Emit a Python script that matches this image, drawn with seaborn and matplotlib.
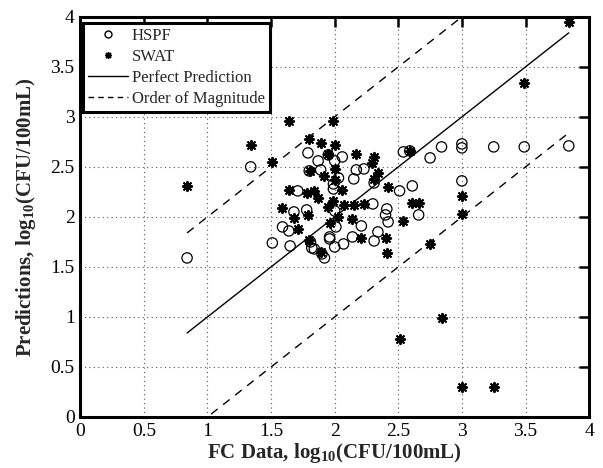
import matplotlib
matplotlib.use('Agg')
import matplotlib.pyplot as plt
from matplotlib.lines import Line2D
import numpy as np
import seaborn as sns

# FC data (x) vs model predictions (y), log10 CFU/100mL
hspf_x = [0.84, 1.34, 1.51, 1.59, 1.64, 1.65, 1.68, 1.71, 1.78, 1.79, 1.80, 1.81, 1.82, 1.84,
          1.87, 1.89, 1.90, 1.92, 1.95, 1.96, 1.96, 1.99, 1.99, 2.00, 2.00, 2.00, 2.01, 2.03,
          2.06, 2.07, 2.14, 2.15, 2.17, 2.21, 2.23, 2.30, 2.31, 2.31, 2.34, 2.40, 2.41, 2.42,
          2.51, 2.54, 2.59, 2.61, 2.66, 2.75, 2.84, 3.00, 3.00, 3.00, 3.25, 3.49, 3.84]
hspf_y = [1.59, 2.50, 1.74, 1.90, 1.86, 1.71, 2.05, 2.26, 2.07, 2.64, 2.46, 1.75, 1.69, 1.68,
          2.56, 2.47, 1.63, 1.59, 2.62, 1.80, 1.78, 2.33, 2.28, 2.56, 2.06, 1.70, 1.90, 2.39,
          2.60, 1.73, 1.80, 2.38, 2.47, 1.91, 2.48, 2.13, 2.34, 1.76, 1.85, 2.02, 2.08, 1.95,
          2.26, 2.65, 2.66, 2.31, 2.02, 2.59, 2.70, 2.73, 2.69, 2.36, 2.70, 2.70, 2.71]

swat_x = [0.84, 1.34, 1.51, 1.59, 1.64, 1.64, 1.68, 1.71, 1.78, 1.79, 1.80, 1.80, 1.81, 1.84,
          1.87, 1.89, 1.89, 1.92, 1.95, 1.95, 1.96, 1.99, 1.99, 2.00, 2.00, 2.00, 2.03, 2.06,
          2.07, 2.14, 2.15, 2.17, 2.21, 2.23, 2.29, 2.31, 2.31, 2.34, 2.40, 2.41, 2.42, 2.51,
          2.54, 2.59, 2.61, 2.66, 2.75, 2.84, 3.00, 3.00, 3.00, 3.25, 3.49, 3.84]
swat_y = [2.31, 2.72, 2.55, 2.09, 2.96, 2.27, 1.99, 1.88, 2.24, 2.02, 2.78, 1.77, 2.46, 2.26,
          2.19, 2.74, 1.65, 2.41, 2.63, 2.10, 1.94, 2.96, 2.16, 2.72, 2.48, 2.37, 2.00, 2.27,
          2.12, 1.98, 2.12, 2.63, 1.79, 2.13, 2.54, 2.60, 2.38, 2.44, 1.79, 1.64, 2.30, 0.78,
          1.96, 2.66, 2.14, 2.14, 1.73, 0.99, 2.21, 2.03, 0.30, 0.30, 3.34, 3.95]

ticks = [0, 0.5, 1, 1.5, 2, 2.5, 3, 3.5, 4]
tick_labels = ['0', '0.5', '1', '1.5', '2', '2.5', '3', '3.5', '4']

sns.set_style('white')
plt.rcParams['font.family'] = ['Liberation Serif', 'DejaVu Serif']
plt.rcParams['mathtext.fontset'] = 'custom'
plt.rcParams['mathtext.rm'] = 'Liberation Serif'
plt.rcParams['mathtext.bf'] = 'Liberation Serif:bold'

fig = plt.figure(figsize=(6.03, 4.68), dpi=100)
ax = fig.add_axes([0.133, 0.109, 0.844, 0.855])

sns.scatterplot(x=hspf_x, y=hspf_y, ax=ax, marker='o', s=55, facecolor='none',
                edgecolor='black', linewidth=0.9, zorder=3)
sns.scatterplot(x=swat_x, y=swat_y, ax=ax, marker=(8, 2, 0), s=45, color='black',
                linewidth=1.4, zorder=3)

lo = min(hspf_x + swat_x)
hi = max(hspf_x + swat_x)
fit_x = np.array([lo, hi])
sns.lineplot(x=fit_x, y=fit_x, ax=ax, color='black', linewidth=1.0)
sns.lineplot(x=fit_x, y=fit_x + 1, ax=ax, color='black', linewidth=1.0, linestyle=(0, (6, 5)))
sns.lineplot(x=fit_x, y=fit_x - 1, ax=ax, color='black', linewidth=1.0, linestyle=(0, (6, 5)))

ax.set_xlim(0, 4)
ax.set_ylim(0, 4)
ax.set_xticks(ticks)
ax.set_xticklabels(tick_labels)
ax.set_yticks(ticks)
ax.set_yticklabels(tick_labels)
ax.tick_params(direction='in', top=True, right=True, length=7, width=1.8,
               labelsize=14, pad=4, colors='black')
ax.grid(True, linestyle=(0, (1, 3)), color='#555555', linewidth=0.8)
for sp in ax.spines.values():
    sp.set_linewidth(2.2)
    sp.set_color('black')

ax.set_xlabel(r'FC Data, log$_{\mathbf{10}}$(CFU/100mL)', fontsize=15, fontweight='bold', labelpad=1)
ax.set_ylabel(r'Predictions, log$_{\mathbf{10}}$(CFU/100mL)', fontsize=15, fontweight='bold', labelpad=9)

handles = [
    Line2D([], [], marker='o', linestyle='none', markerfacecolor='none', markeredgecolor='black', markersize=5),
    Line2D([], [], marker=(8, 2, 0), linestyle='none', color='black', markersize=5),
    Line2D([], [], color='black', linewidth=1.0),
    Line2D([], [], color='black', linewidth=1.0, linestyle=(0, (4, 3))),
]
leg = ax.legend(handles, ['HSPF', 'SWAT', 'Perfect Prediction', 'Order of Magnitude'],
                loc='upper left', bbox_to_anchor=(0.006, 0.984), fontsize=12, fancybox=False,
                framealpha=1, edgecolor='black', borderpad=0.3, labelspacing=0.3,
                handlelength=2.4, handletextpad=0.2, borderaxespad=0)
leg.get_frame().set_linewidth(2.2)

fig.savefig('out.png', dpi=100)
